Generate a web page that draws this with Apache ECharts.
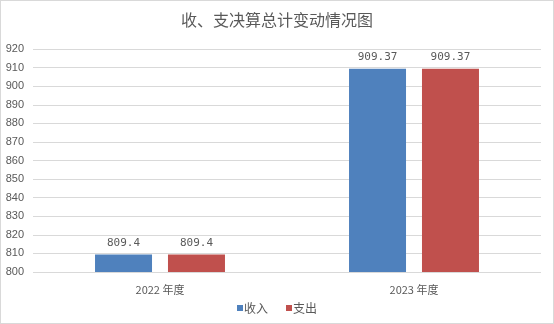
<!DOCTYPE html>
<html>
<head>
<meta charset="utf-8">
<script src="https://cdn.jsdelivr.net/npm/echarts@6/dist/echarts.min.js"></script>
<style>
  html, body { margin: 0; padding: 0; background: #fff; }
  #chart { width: 552px; height: 322px; border: 1px solid #d9d9d9; }
</style>
</head>
<body>
<div id="chart"></div>
<script>
// Fiscal years shown on the category axis
const categories = ['2022 年度', '2023 年度'];
// Final-account totals
const incomeValues = [809.4, 909.37];
const expenseValues = [809.4, 909.37];
const seriesNames = ['收入', '支出'];

const chart = echarts.init(document.getElementById('chart'));
const textColor = '#595959';
const cjkFont = '"Noto Sans CJK SC", "Liberation Sans", sans-serif';

const labelStyle = {
  show: true,
  position: 'top',
  distance: 6,
  color: textColor,
  fontSize: 11,
  fontFamily: '"DejaVu Sans Mono", monospace'
};

chart.setOption({
  animation: false,
  title: {
    text: '收、支决算总计变动情况图',
    left: 'center',
    top: 6,
    textStyle: { color: textColor, fontSize: 16, fontWeight: 'normal', fontFamily: cjkFont }
  },
  legend: {
    bottom: 4,
    left: 'center',
    icon: 'rect',
    itemWidth: 6,
    itemHeight: 6,
    itemGap: 18,
    textStyle: { color: textColor, fontSize: 12, fontFamily: cjkFont, padding: [0, 0, 0, -4] },
    data: seriesNames
  },
  grid: { left: 32, right: 12, top: 48, bottom: 51 },
  xAxis: {
    type: 'category',
    data: categories,
    axisLine: { show: false },
    axisTick: { show: false },
    axisLabel: { color: textColor, fontSize: 11, fontFamily: cjkFont, margin: 12 }
  },
  yAxis: {
    type: 'value',
    min: 800,
    max: 920,
    interval: 10,
    axisLine: { show: false },
    axisTick: { show: false },
    axisLabel: { color: textColor, fontSize: 11, fontFamily: '"Liberation Sans", sans-serif', margin: 9 },
    splitLine: { lineStyle: { color: '#d9d9d9', width: 1 } }
  },
  series: [
    {
      name: seriesNames[0],
      type: 'bar',
      data: incomeValues,
      barWidth: 57,
      barGap: '28%',
      itemStyle: { color: '#4f81bd' },
      label: labelStyle
    },
    {
      name: seriesNames[1],
      type: 'bar',
      data: expenseValues,
      barWidth: 57,
      itemStyle: { color: '#c0504d' },
      label: labelStyle
    }
  ]
});
</script>
</body>
</html>
